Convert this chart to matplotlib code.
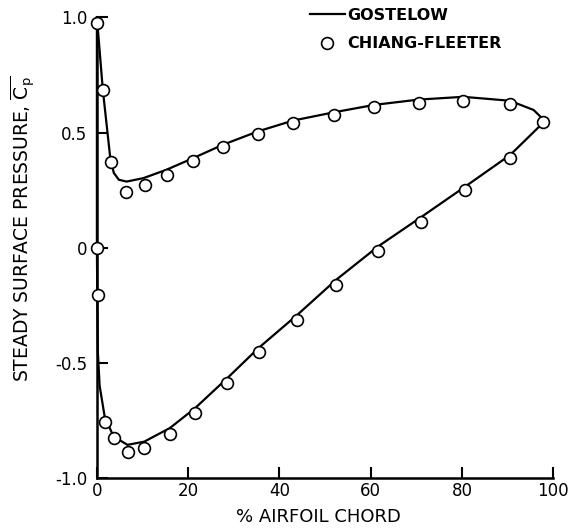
import matplotlib
matplotlib.use("Agg")
import matplotlib.pyplot as plt

# Gostelow curve, upper surface (leading edge -> trailing edge)
gost_upper_x = [0.0, 1.3, 2.9, 3.7, 4.8, 6.5, 10.2, 15.2, 21.0, 27.5, 35.3,
                43.0, 52.0, 60.8, 70.5, 80.3, 90.5, 95.7, 98.2]
gost_upper_cp = [1.0, 0.685, 0.395, 0.325, 0.295, 0.287, 0.302, 0.338, 0.388,
                 0.446, 0.505, 0.552, 0.588, 0.620, 0.643, 0.655, 0.638, 0.598, 0.55]

# Gostelow curve, lower surface (leading edge -> trailing edge)
gost_lower_x = [0.0, 0.0, 0.0, 0.1, 0.2, 0.6, 1.7, 3.65, 6.7, 10.4, 16.0, 21.5,
                28.6, 35.4, 43.9, 52.4, 61.6, 71.0, 80.7, 90.6, 98.2]
gost_lower_cp = [1.0, 0.5, 0.0, -0.25, -0.45, -0.6, -0.733, -0.82, -0.856, -0.842,
                 -0.783, -0.697, -0.566, -0.436, -0.292, -0.14, 0.005, 0.132,
                 0.265, 0.403, 0.55]

# Chiang-Fleeter points
cf_upper_x = [0.0, 1.3, 3.0, 6.3, 10.5, 15.3, 21.0, 27.7, 35.3, 43.0, 52.0,
              60.8, 70.5, 80.3, 90.5, 97.7]
cf_upper_cp = [0.975, 0.685, 0.371, 0.243, 0.273, 0.316, 0.375, 0.437, 0.494,
               0.540, 0.576, 0.610, 0.630, 0.638, 0.624, 0.546]
cf_lower_x = [0.0, 0.2, 1.7, 3.65, 6.8, 10.4, 16.0, 21.5, 28.6, 35.6, 43.9,
              52.4, 61.6, 71.0, 80.7, 90.6]
cf_lower_cp = [0.0, -0.205, -0.755, -0.827, -0.885, -0.870, -0.810, -0.718,
               -0.588, -0.455, -0.313, -0.162, -0.014, 0.113, 0.252, 0.388]

x_ticks = [0, 20, 40, 60, 80, 100]
y_ticks = [-1.0, -0.5, 0, 0.5, 1.0]
y_ticklabels = ["-1.0", "-0.5", "0", "0.5", "1.0"]

plt.rcParams["font.family"] = "DejaVu Sans"
plt.rcParams["mathtext.fontset"] = "dejavusans"

fig = plt.figure(figsize=(5.7, 5.31), dpi=100)
ax = fig.add_axes([0.170, 0.0998, 0.8005, 0.8675])

ax.plot(gost_upper_x, gost_upper_cp, color="black", lw=1.6, label="GOSTELOW",
        clip_on=False, zorder=2)
ax.plot(gost_lower_x, gost_lower_cp, color="black", lw=1.6, clip_on=False, zorder=2)
ax.plot(cf_upper_x + cf_lower_x, cf_upper_cp + cf_lower_cp, ls="none", marker="o",
        ms=8.5, mfc="white", mec="black", mew=1.2, label="CHIANG-FLEETER",
        clip_on=False, zorder=3)

ax.set_xlim(0, 100)
ax.set_ylim(-1.0, 1.0)
ax.set_xticks(x_ticks)
ax.set_yticks(y_ticks)
ax.set_yticklabels(y_ticklabels)
ax.tick_params(direction="in", length=8, width=1.5, labelsize=12, color="black")
ax.tick_params(axis="x", pad=3)
ax.tick_params(axis="y", pad=7)
for s in ["top", "right"]:
    ax.spines[s].set_visible(False)
for s in ["left", "bottom"]:
    ax.spines[s].set_linewidth(1.8)

fig.text(0.558, 0.026, "% AIRFOIL CHORD", ha="center", va="center", fontsize=13)
fig.text(0.040, 0.57, r"STEADY SURFACE PRESSURE, $\overline{\mathrm{C}_\mathrm{p}}$",
         ha="center", va="center", rotation=90, fontsize=13.5)

leg = ax.legend(loc="upper left", bbox_to_anchor=(0.452, 1.035), frameon=False,
                handlelength=2.2, handletextpad=0.15, labelspacing=0.85,
                prop={"weight": "bold", "size": 11.5}, borderaxespad=0)

fig.savefig("out.png", dpi=100)
